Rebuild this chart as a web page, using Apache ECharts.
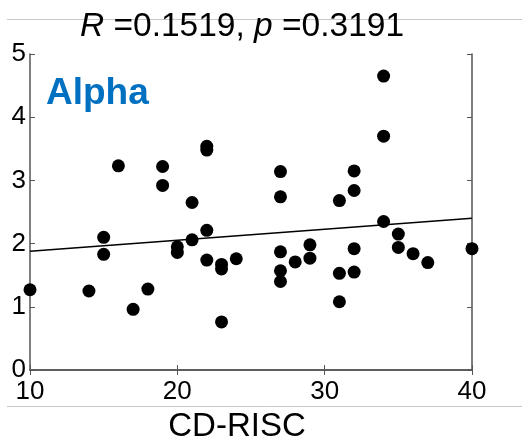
<!DOCTYPE html>
<html><head><meta charset="utf-8">
<script src="https://cdn.jsdelivr.net/npm/echarts@6/dist/echarts.min.js"></script>
<style>html,body{margin:0;padding:0;background:#fff}#c{width:522px;height:444px}</style>
</head><body><div id="c"></div>
<script>
const cdRisc = [10,14,15,15,16,17,18,19,19,20,20,21,21,22,22,22,22,23,23,23,24,27,27,27,27,27,28,29,29,31,31,31,32,32,32,32,34,34,34,35,35,36,37,40];
const alpha  = [1.27,1.25,2.10,1.83,3.23,0.96,1.28,3.22,2.92,1.95,1.86,2.65,2.06,3.48,3.54,2.21,1.74,1.67,1.60,0.76,1.76,3.14,2.74,1.87,1.57,1.40,1.71,1.98,1.77,2.68,1.53,1.08,3.15,2.84,1.92,1.55,4.65,3.70,2.35,2.15,1.94,1.84,1.70,1.92];
const fitX = [10, 40];
const fitY = [1.88, 2.40];
const xTicks = [10,20,30,40];
const yTicks = [0,1,2,3,4,5];

const font = '"Liberation Sans", Arial, sans-serif';
const axisLine = {show:true, lineStyle:{color:'#555', width:1.5}};
const chart = echarts.init(document.getElementById('c'));
chart.setOption({
  animation:false,
  backgroundColor:'#fff',
  grid:{left:30, right:50, top:54, bottom:74, containLabel:false, outerBoundsMode:'none'},
  title:{
    text:'{i|R} =0.1519, {i|p} =0.3191',
    left:237, top:5, textAlign:'center',
    textStyle:{fontFamily:font, fontSize:33.5, fontWeight:'normal', color:'#000',
      rich:{i:{fontFamily:font, fontSize:33.5, fontStyle:'italic', color:'#000'}}}
  },
  graphic:[
    {type:'line', shape:{x1:7,y1:19.5,x2:522,y2:19.5}, style:{stroke:'#c8c8c8', lineWidth:1}, z:-1},
    {type:'line', shape:{x1:7,y1:406.5,x2:522,y2:406.5}, style:{stroke:'#c8c8c8', lineWidth:1}, z:-1},
    {type:'text', left:46, top:75, style:{text:'Alpha', fontFamily:font, fontSize:37, fontWeight:'bold', fill:'#0070C0'}}
  ],
  xAxis:[
    {type:'value', min:xTicks[0], max:xTicks[xTicks.length-1], interval:10, position:'bottom',
     name:'CD-RISC', nameLocation:'middle', nameGap:40,
     nameTextStyle:{fontFamily:font, fontSize:33, color:'#000', padding:[0,28,0,0]},
     axisLine, axisTick:{show:true, inside:true, length:5, lineStyle:{color:'#555'}},
     axisLabel:{fontFamily:font, fontSize:26, color:'#000', margin:9},
     splitLine:{show:false}},
    {type:'value', min:10, max:40, interval:10, position:'top',
     axisLine, axisTick:{show:true, inside:true, length:5, lineStyle:{color:'#555'}},
     axisLabel:{show:false}, splitLine:{show:false}}
  ],
  yAxis:[
    {type:'value', min:yTicks[0], max:yTicks[yTicks.length-1], interval:1, position:'left',
     axisLine, axisTick:{show:true, inside:true, length:5, lineStyle:{color:'#555'}},
     axisLabel:{fontFamily:font, fontSize:26, color:'#000', margin:4},
     splitLine:{show:false}},
    {type:'value', min:0, max:5, interval:1, position:'right',
     axisLine, axisTick:{show:true, inside:true, length:5, lineStyle:{color:'#555'}},
     axisLabel:{show:false}, splitLine:{show:false}}
  ],
  series:[
    {type:'scatter', symbol:'circle', symbolSize:13,
     itemStyle:{color:'#000', opacity:1},
     data: cdRisc.map((x,i)=>[x, alpha[i]]), z:3},
    {type:'line', symbol:'none', lineStyle:{color:'#000', width:1.5},
     data: fitX.map((x,i)=>[x, fitY[i]]), z:2}
  ]
});
</script></body></html>
